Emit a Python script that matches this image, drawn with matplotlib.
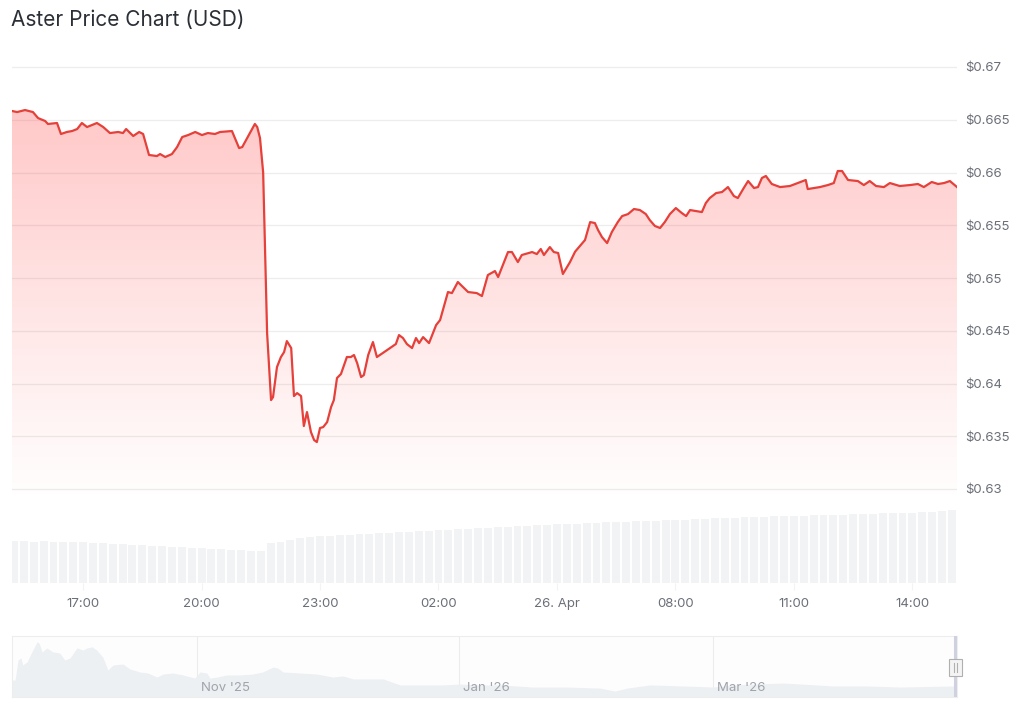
import numpy as np
import matplotlib
matplotlib.use("Agg")
import matplotlib.pyplot as plt
from matplotlib.patches import Rectangle

plt.rcParams['font.family'] = ['Inter', 'DejaVu Sans']

# ---------------- data ----------------
# hours since midnight of 25 Apr (values > 24 belong to 26 Apr)
hours = [15.20, 15.33, 15.53, 15.73, 15.86, 16.04, 16.11, 16.34, 16.44, 16.59,
         16.72, 16.85, 16.97, 17.10, 17.35, 17.51, 17.68, 17.89, 18.01, 18.09,
         18.27, 18.42, 18.52, 18.67, 18.87, 18.95, 19.08, 19.25, 19.38, 19.51,
         19.66, 19.84, 20.01, 20.16, 20.34, 20.47, 20.77, 20.95, 21.03, 21.35,
         21.41, 21.48, 21.56, 21.66, 21.76, 21.81, 21.91, 22.01, 22.09, 22.16,
         22.27, 22.34, 22.42, 22.52, 22.59, 22.67, 22.77, 22.85, 22.92, 23.00,
         23.08, 23.18, 23.28, 23.35, 23.43, 23.53, 23.68, 23.78, 23.86, 23.94,
         24.04, 24.11, 24.22, 24.34, 24.44, 24.59, 24.77, 24.92, 25.00, 25.10,
         25.20, 25.33, 25.43, 25.51, 25.61, 25.76, 25.94, 26.04, 26.24, 26.34,
         26.49, 26.75, 26.97, 27.10, 27.25, 27.43, 27.51, 27.76, 27.86, 28.01,
         28.11, 28.37, 28.49, 28.59, 28.67, 28.82, 28.92, 29.03, 29.15, 29.33,
         29.46, 29.71, 29.84, 29.96, 30.04, 30.14, 30.27, 30.39, 30.54, 30.65,
         30.80, 30.95, 31.10, 31.25, 31.35, 31.48, 31.61, 31.73, 31.86, 32.01,
         32.16, 32.27, 32.37, 32.52, 32.67, 32.77, 32.87, 33.03, 33.18, 33.33,
         33.48, 33.58, 33.73, 33.84, 33.99, 34.09, 34.19, 34.29, 34.44, 34.65,
         34.90, 35.10, 35.30, 35.35, 35.51, 35.66, 35.86, 36.01, 36.11, 36.22,
         36.37, 36.62, 36.77, 36.92, 37.08, 37.28, 37.43, 37.68, 37.94, 38.14,
         38.29, 38.49, 38.65, 38.80, 38.95, 39.13]
price = [0.66583, 0.66573, 0.66592, 0.66573, 0.66516, 0.66488, 0.66460, 0.66469, 0.66365, 0.66384,
         0.66393, 0.66412, 0.66469, 0.66431, 0.66469, 0.66431, 0.66374, 0.66384, 0.66374, 0.66412,
         0.66346, 0.66384, 0.66365, 0.66166, 0.66156, 0.66175, 0.66147, 0.66175, 0.66241, 0.66336,
         0.66355, 0.66384, 0.66355, 0.66374, 0.66365, 0.66384, 0.66393, 0.66232, 0.66241, 0.66460,
         0.66431, 0.66327, 0.66000, 0.64478, 0.63843, 0.63871, 0.64156, 0.64251, 0.64298, 0.64402,
         0.64336, 0.63881, 0.63909, 0.63881, 0.63597, 0.63729, 0.63540, 0.63464, 0.63445, 0.63578,
         0.63587, 0.63634, 0.63777, 0.63843, 0.64052, 0.64090, 0.64251, 0.64251, 0.64270, 0.64194,
         0.64061, 0.64080, 0.64270, 0.64393, 0.64251, 0.64289, 0.64336, 0.64374, 0.64459, 0.64431,
         0.64374, 0.64336, 0.64431, 0.64383, 0.64440, 0.64383, 0.64554, 0.64601, 0.64867, 0.64857,
         0.64962, 0.64867, 0.64857, 0.64829, 0.65028, 0.65066, 0.65009, 0.65246, 0.65246, 0.65151,
         0.65218, 0.65246, 0.65227, 0.65275, 0.65218, 0.65293, 0.65246, 0.65237, 0.65038, 0.65151,
         0.65250, 0.65360, 0.65530, 0.65521, 0.65455, 0.65388, 0.65331, 0.65436, 0.65530, 0.65587,
         0.65606, 0.65654, 0.65644, 0.65606, 0.65549, 0.65493, 0.65474, 0.65530, 0.65606, 0.65663,
         0.65616, 0.65587, 0.65644, 0.65635, 0.65625, 0.65711, 0.65758, 0.65805, 0.65815, 0.65862,
         0.65777, 0.65758, 0.65853, 0.65919, 0.65853, 0.65862, 0.65948, 0.65967, 0.65891, 0.65862,
         0.65872, 0.65900, 0.65929, 0.65843, 0.65853, 0.65862, 0.65881, 0.65900, 0.66014, 0.66014,
         0.65929, 0.65919, 0.65881, 0.65919, 0.65872, 0.65862, 0.65900, 0.65872, 0.65881, 0.65891,
         0.65862, 0.65910, 0.65891, 0.65900, 0.65919, 0.65862]

# volume bars (15-minute buckets, relative units)
vol_hours = [15.25 + 0.25 * i for i in range(96)]
volume = [42, 42, 41, 42, 41, 41, 41, 41,
          40, 40, 39, 39, 38, 38, 37, 37, 36, 36, 35, 35,
          34, 34, 33, 33, 32, 32,
          40, 41, 43, 45, 46, 47,
          47, 48, 48, 49, 49, 50, 50, 51, 51, 52, 52, 53,
          53, 54, 54, 55, 55, 56, 56, 57, 57, 58, 58, 59,
          59, 59, 60, 60, 61, 61, 61, 62, 62, 62, 63, 63,
          63, 64, 64, 65, 65, 65, 66, 66, 66, 67, 67, 67,
          67, 68, 68, 68, 68, 69, 69, 69, 70, 70, 70, 70,
          71, 71, 72, 73]

# navigator history (days since 1 Nov 2025, price)
nav_days = [-43.0, -42.3, -41.6, -40.9, -40.5, -39.5, -38.4, -37.2, -36.7, -36.0,
            -34.9, -33.5, -31.9, -30.7, -29.5, -27.9, -26.5, -25.6, -24.4, -23.3,
            -21.9, -20.7, -19.5, -17.2, -15.6, -13.3, -11.4, -9.3, -7.9, -5.6,
            -3.3, -0.5, 0.7, 2.3, 3.0, 4.7, 7.0, 10.0, 13.0, 15.3,
            17.7, 18.8, 20.0, 24.0, 27.9, 31.6, 34.0, 36.3, 39.5, 43.3,
            47.2, 51.9, 57.2, 61.2, 65.1, 70.5, 78.1, 86.0, 93.7, 97.2,
            100.0, 105.3, 113.0, 120.0, 124.7, 136.3, 147.9, 155.8, 163.5, 175.8, 176.7]
nav_price = [0.80, 0.80, 1.74, 1.84, 1.51, 1.65, 2.12, 2.59, 2.54, 2.12,
             2.31, 2.12, 2.07, 1.74, 1.84, 2.31, 2.21, 2.31, 2.36, 2.21,
             1.88, 1.27, 1.51, 1.55, 1.32, 1.18, 1.13, 0.94, 1.08, 1.13,
             1.04, 0.89, 1.18, 1.13, 0.89, 0.94, 1.04, 1.04, 1.08, 1.18,
             1.41, 1.36, 1.18, 1.13, 1.08, 0.94, 0.99, 0.85, 0.85, 0.85,
             0.57, 0.57, 0.57, 0.61, 0.57, 0.57, 0.47, 0.47, 0.42, 0.28,
             0.42, 0.57, 0.52, 0.47, 0.57, 0.66, 0.52, 0.52, 0.47, 0.52, 0.52]

y_ticks = [0.63, 0.635, 0.64, 0.645, 0.65, 0.655, 0.66, 0.665, 0.67]
y_labels = ['$0.63', '$0.635', '$0.64', '$0.645', '$0.65', '$0.655', '$0.66', '$0.665', '$0.67']
x_ticks = [17, 20, 23, 26, 29, 32, 35, 38]
x_labels = ['17:00', '20:00', '23:00', '02:00', '26. Apr', '08:00', '11:00', '14:00']
nav_ticks = [0, 61, 120]
nav_labels = ["Nov '25", "Jan '26", "Mar '26"]

# ---------------- figure ----------------
W, H = 1024, 715
fig = plt.figure(figsize=(W / 100, H / 100), dpi=100)
fig.patch.set_facecolor('white')

def fx(px):
    return px / W

def fy(py):
    return 1 - py / H

LINE = '#e5403a'
TXT = '#6b6f78'

# title
fig.text(fx(11), fy(20), 'Aster Price Chart (USD)', fontsize=15, color='#2b2f36',
         ha='left', va='center')

# price axes
x0, x1 = 12, 957
ax = fig.add_axes([fx(x0), fy(495), fx(x1 - x0), (495 - 60) / H])
ax.set_xlim(hours[0], hours[-1])
ylo = 0.63 - 6 / 10550
yhi = 0.67 + 7 / 10550
ax.set_ylim(ylo, yhi)
for s in ax.spines.values():
    s.set_visible(False)
ax.set_xticks([])
ax.set_yticks(y_ticks)
ax.yaxis.tick_right()
ax.set_yticklabels(y_labels)
ax.tick_params(axis='y', length=0, pad=6, labelsize=9.5, labelcolor=TXT)
ax.grid(axis='y', color='#ededed', linewidth=0.9)
ax.set_axisbelow(True)

# gradient fill under the line
poly = ax.fill_between(hours, price, ylo, color='none', linewidth=0)
grad = np.zeros((256, 2, 4))
t = np.linspace(0, 1, 256)[:, None]  # 0 at top, 1 at bottom
grad[..., 0] = 1.0
grad[..., 1] = 0.25
grad[..., 2] = 0.25
grad[..., 3] = 0.32 * (1 - t) ** 1.1 + 0.01
im = ax.imshow(grad, extent=[hours[0], hours[-1], ylo, yhi], aspect='auto',
               origin='upper', zorder=1)
path = poly.get_paths()[0]
im.set_clip_path(path, transform=ax.transData)
ax.plot(hours, price, color=LINE, linewidth=1.6, zorder=3, solid_joinstyle='round')

# volume axes
axv = fig.add_axes([fx(x0), fy(583), fx(x1 - x0), (583 - 505) / H])
axv.set_xlim(hours[0], hours[-1])
axv.set_ylim(0, 78)
axv.bar(vol_hours, volume, width=0.2, color='#f1f3f5', linewidth=0, align='center')
for s in axv.spines.values():
    s.set_visible(False)
axv.set_yticks([])
axv.set_xticks(x_ticks)
axv.set_xticklabels(x_labels)
axv.tick_params(axis='x', length=5, color='#f3f3f3', pad=6, labelsize=9.5, labelcolor=TXT)

# navigator axes
axn = fig.add_axes([fx(x0), fy(697), fx(x1 - x0), (697 - 636) / H])
axn.set_xlim(nav_days[0], nav_days[-1])
axn.set_ylim(0, 2.87)
axn.set_facecolor('#fdfdfe')
axn.fill_between(nav_days, nav_price, 0, color='#edf0f2', linewidth=0)
for d in nav_ticks:
    axn.axvline(d, color='#ececec', linewidth=0.8, zorder=0.5)
for d, lab in zip(nav_ticks, nav_labels):
    axn.text(d + 0.9, 0.12, lab, fontsize=9.5, color='#a0a4ab', ha='left', va='bottom')
for s in axn.spines.values():
    s.set_color('#ededed')
    s.set_linewidth(0.8)
axn.set_xticks([])
axn.set_yticks([])
# selection handle at the right edge
axn.axvline(nav_days[-1] - 0.4, color='#cfd1e0', linewidth=2.2, zorder=3)
hx = fx(949)
hy = fy(676)
fig.patches.append(Rectangle((hx, hy), fx(13), (676 - 659) / H, transform=fig.transFigure,
                             facecolor='#f4f4f4', edgecolor='#b0b0b0', linewidth=0.8, zorder=5))
for lx in (954, 957):
    fig.lines.append(plt.Line2D([fx(lx), fx(lx)], [fy(672), fy(663)], transform=fig.transFigure,
                                color='#b0b0b0', linewidth=0.8, zorder=6))

fig.savefig('out.png', dpi=100, facecolor='white')
